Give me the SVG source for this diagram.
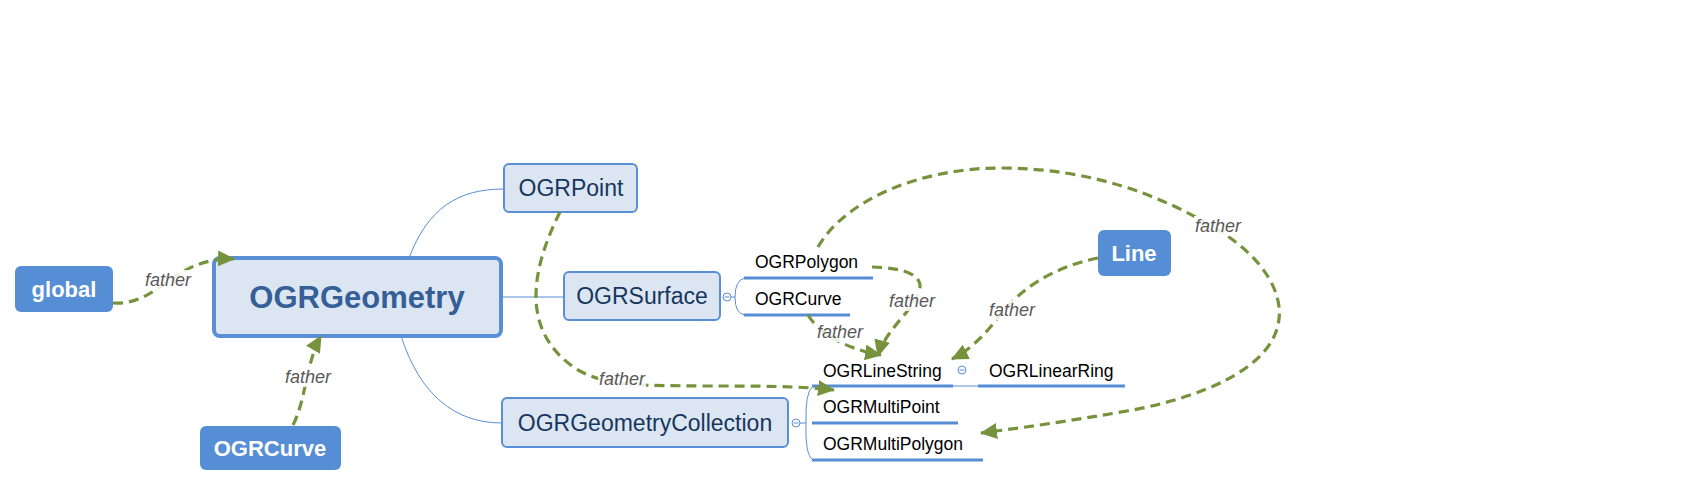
<svg xmlns="http://www.w3.org/2000/svg" width="1681" height="487" viewBox="0 0 1681 487">
<defs>
<marker id="ah" markerUnits="userSpaceOnUse" markerWidth="18" markerHeight="16" refX="16" refY="8" orient="auto">
<path d="M0,0 L17,8 L0,16 z" fill="#76923c"/>
</marker>
<style>
.topic{fill:#dce6f2;stroke:#5a8ed6;stroke-width:2}
.main{fill:#dce6f2;stroke:#5a8ed6;stroke-width:4}
.solid{fill:#558ed5}
.tt{font-family:"Liberation Sans",Arial,sans-serif;font-size:23px;fill:#17365d;text-anchor:middle}
.wt{font-family:"Liberation Sans",Arial,sans-serif;font-size:22px;font-weight:bold;fill:#ffffff;text-anchor:middle}
.st{font-family:"Liberation Sans",Arial,sans-serif;font-size:17.5px;fill:#000000}
.ul{stroke:#558ed5;stroke-width:3;fill:none}
.br{stroke:#5a8ed6;stroke-width:1;fill:none}
.cc{fill:#ffffff;stroke:#5a8ed6;stroke-width:1}
.rel{stroke:#76923c;stroke-width:3.2;stroke-dasharray:10 6;fill:none;marker-end:url(#ah)}
.lb{font-family:"Liberation Sans",Arial,sans-serif;font-size:18px;font-style:italic;fill:#595959;text-anchor:middle}
.lbg{fill:#ffffff;fill-opacity:0.85}
</style>
</defs>
<rect width="1681" height="487" fill="#ffffff"/>

<g id="branches">
<path class="br" d="M409,258 C428,208 458,189 504,189"/>
<path class="br" d="M501,297 L563,297"/>
<path class="br" d="M401,336 C420,395 455,423 502,423"/>
<path class="br" d="M731,297 L735,297"/>
<path class="br" d="M745,278 Q735,280 735,297 Q735,314 745,315"/>
<path class="br" d="M800,423 L806,423"/>
<path class="br" d="M813,386 Q805,392 806,423 Q805,455 813,460"/>
<path class="br" d="M953,386 L978,386"/>
</g>

<g id="global"><rect class="solid" x="15" y="266" width="98" height="46" rx="6"/><text class="wt" x="64" y="297">global</text></g>
<g id="OGRGeometry"><rect class="main" x="214" y="258" width="287" height="78" rx="6"/><text x="357" y="308" text-anchor="middle" font-family="Liberation Sans,Arial,sans-serif" font-size="31" font-weight="bold" fill="#355f96">OGRGeometry</text></g>
<g id="OGRCurve-root"><rect class="solid" x="200" y="426" width="141" height="44" rx="6"/><text class="wt" x="270" y="456">OGRCurve</text></g>
<g id="OGRPoint"><rect class="topic" x="504" y="164" width="133" height="48" rx="5"/><text class="tt" x="571" y="196">OGRPoint</text></g>
<g id="OGRSurface"><rect class="topic" x="564" y="272" width="156" height="48" rx="5"/><text class="tt" x="642" y="304">OGRSurface</text><circle class="cc" cx="727" cy="297" r="4"/><line x1="724.5" y1="297" x2="729.5" y2="297" stroke="#5a8ed6" stroke-width="1"/></g>
<g id="OGRGeometryCollection"><rect class="topic" x="502" y="398" width="286" height="49" rx="5"/><text class="tt" x="645" y="431">OGRGeometryCollection</text><circle class="cc" cx="796" cy="423" r="4"/><line x1="793.5" y1="423" x2="798.5" y2="423" stroke="#5a8ed6" stroke-width="1"/></g>
<g id="Line"><rect class="solid" x="1098" y="230" width="73" height="46" rx="6"/><text class="wt" x="1134" y="261">Line</text></g>

<g id="OGRPolygon"><text class="st" x="755" y="268">OGRPolygon</text><line class="ul" x1="744" y1="278" x2="873" y2="278"/></g>
<g id="OGRCurve"><text class="st" x="755" y="305">OGRCurve</text><line class="ul" x1="744" y1="315" x2="850" y2="315"/></g>
<g id="OGRLineString"><text class="st" x="823" y="377">OGRLineString</text><line class="ul" x1="812" y1="386" x2="953" y2="386"/><circle class="cc" cx="962" cy="370" r="4"/><line x1="959.5" y1="370" x2="964.5" y2="370" stroke="#5a8ed6" stroke-width="1"/></g>
<g id="OGRLinearRing"><text class="st" x="989" y="377">OGRLinearRing</text><line class="ul" x1="978" y1="386" x2="1125" y2="386"/></g>
<g id="OGRMultiPoint"><text class="st" x="823" y="413">OGRMultiPoint</text><line class="ul" x1="812" y1="423" x2="958" y2="423"/></g>
<g id="OGRMultiPolygon"><text class="st" x="823" y="450">OGRMultiPolygon</text><line class="ul" x1="812" y1="460" x2="983" y2="460"/></g>

<g id="connectors">
<path class="rel" d="M113,303 C160,306 172,257 234,259"/>
<path class="rel" d="M293,425 C306,400 306,362 321,336"/>
<path class="rel" d="M560,212 C535,262 515,330 578,370 C610,388 650,385 700,386 C760,386 800,386 834,390"/>
<path class="rel" d="M872,267 C905,268 925,275 919,292 C912,312 885,330 878,356"/>
<path class="rel" d="M808,315 C820,335 850,350 881,355"/>
<path class="rel" d="M1098,258 C1050,268 1020,290 1000,315 C985,335 970,350 952,359"/>
<path class="rel" d="M818,247 C845,200 920,168 1000,168 C1090,168 1160,195 1215,228 C1265,258 1285,295 1278,325 C1268,370 1200,398 1127,411 C1070,421 1020,428 981,433"/>
<rect class="lbg" x="144" y="270" width="48" height="20"/><text class="lb" x="168" y="286">father</text>
<rect class="lbg" x="284" y="367" width="48" height="20"/><text class="lb" x="308" y="383">father</text>
<rect class="lbg" x="816" y="322" width="48" height="20"/><text class="lb" x="840" y="338">father</text>
<rect class="lbg" x="888" y="291" width="48" height="20"/><text class="lb" x="912" y="307">father</text>
<rect class="lbg" x="988" y="300" width="48" height="20"/><text class="lb" x="1012" y="316">father</text>
<rect class="lbg" x="1194" y="216" width="48" height="20"/><text class="lb" x="1218" y="232">father</text>
<rect class="lbg" x="598" y="369" width="48" height="20"/><text class="lb" x="622" y="385">father</text>
</g>
</svg>
